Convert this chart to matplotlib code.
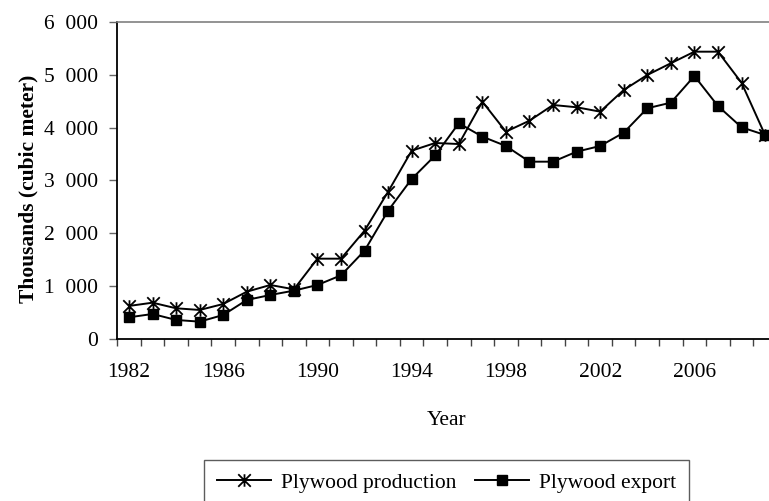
import matplotlib.pyplot as plt
import numpy as np
from matplotlib.path import Path
from matplotlib.ticker import FuncFormatter

plt.rcParams['font.family'] = ['Liberation Serif', 'DejaVu Serif']

# Plywood production and export, thousands of cubic meters
years = list(range(1982, 2010))
production = [625, 687, 581, 549, 662, 895, 1022, 940, 1520, 1520,
              2050, 2788, 3564, 3710, 3690, 4492, 3924, 4132, 4429, 4386,
              4303, 4713, 4997, 5219, 5438, 5438, 4851, 3861]
export = [410, 473, 360, 328, 454, 738, 833, 915, 1022, 1205,
          1672, 2429, 3029, 3475, 4083, 3830, 3653, 3356, 3356, 3545,
          3653, 3905, 4367, 4473, 4978, 4410, 4007, 3861]
label_years = [1982, 1986, 1990, 1994, 1998, 2002, 2006]
y_ticks = [0, 1000, 2000, 3000, 4000, 5000, 6000]

# asterisk marker: vertical bar plus an X
star = Path([(0, -1), (0, 1), (-1, -1), (1, 1), (-1, 1), (1, -1)],
            [Path.MOVETO, Path.LINETO] * 3)

fig = plt.figure(figsize=(7.69, 5.01), dpi=100)
# right edge of the plot area runs a little past the picture, as in the original
ax = fig.add_axes([0.1524, 0.3234, 0.8578, 0.6327])

ax.plot(years, production, color='black', lw=1.4, marker=star, ms=9,
        mec='black', mfc='none', mew=1.3, label='Plywood production')
ax.plot(years, export, color='black', lw=1.4, marker='s', ms=7.5,
        mec='black', mfc='black', label='Plywood export')

ax.set_xlim(1981.5, 2009.5)
ax.set_ylim(0, 6000)

ax.set_xticks(label_years)
ax.set_xticklabels([str(y) for y in label_years])
ax.set_xticks(np.arange(1981.5, 2010, 1), minor=True)
ax.tick_params(axis='x', which='major', length=0, pad=17, labelsize=15.5)
ax.tick_params(axis='x', which='minor', length=5, width=1, color='#444444',
               direction='out')

ax.set_yticks(y_ticks)
ax.yaxis.set_major_formatter(FuncFormatter(lambda v, p: f"{int(v):,}".replace(",", "\u2002")))
ax.tick_params(axis='y', length=6, width=1, color='#666666', pad=8, labelsize=15.5)

ax.spines['left'].set_color('black')
ax.spines['left'].set_linewidth(1.3)
ax.spines['bottom'].set_color('black')
ax.spines['bottom'].set_linewidth(1.3)
ax.spines['top'].set_color('#808080')
ax.spines['top'].set_linewidth(1.2)
ax.spines['right'].set_visible(False)

ax.set_ylabel('Thousands (cubic meter)', fontsize=15.5, fontweight='bold', labelpad=8)
ax.yaxis.set_label_coords(-0.12, 0.475)
ax.set_xlabel('Year', fontsize=15.5, labelpad=21)

leg = ax.legend(loc='upper center', bbox_to_anchor=(446.5 / 769, 1 - 460 / 501),
                bbox_transform=fig.transFigure, ncol=2, fontsize=15.5,
                frameon=True, fancybox=False, edgecolor='#333333',
                handlelength=2.5, handletextpad=0.45, columnspacing=0.9,
                borderpad=0.6, borderaxespad=0)
leg.get_frame().set_linewidth(1.0)

fig.savefig('out.png', dpi=100)
